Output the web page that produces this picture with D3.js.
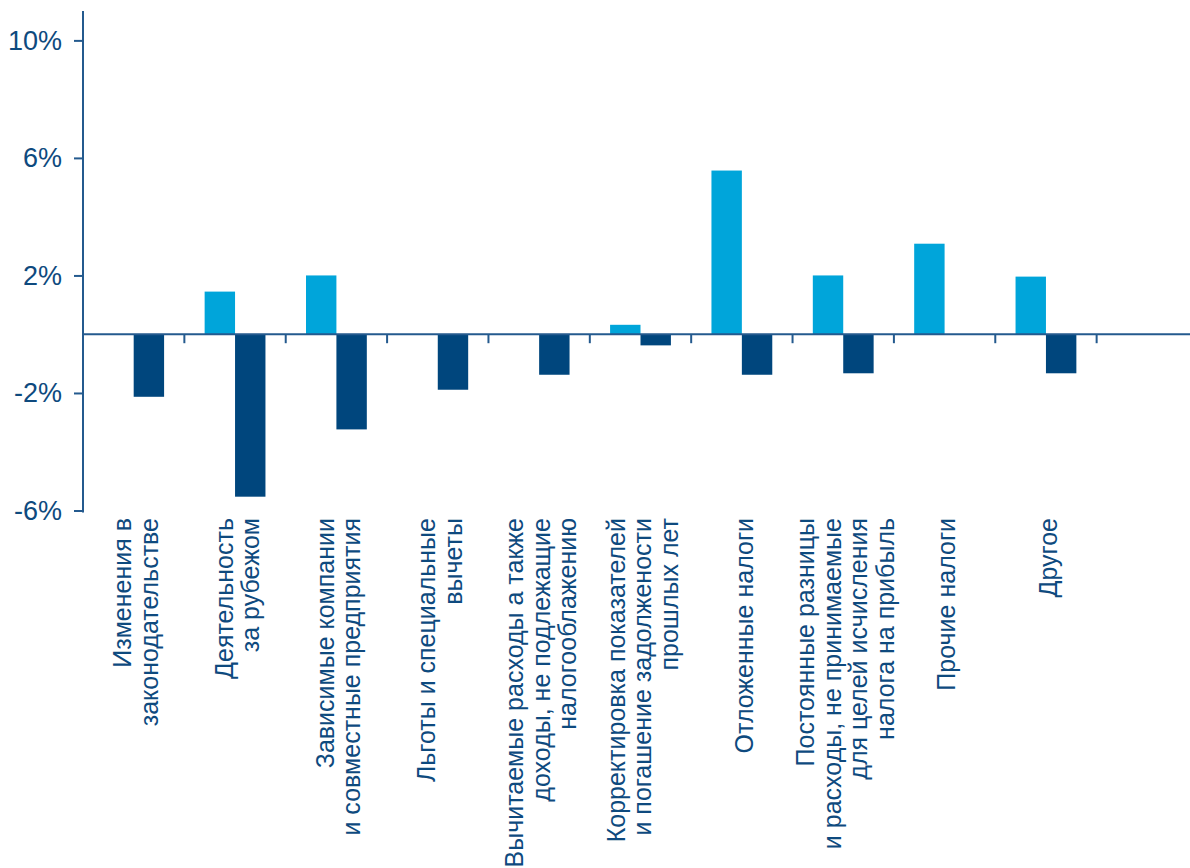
<!DOCTYPE html>
<html>
<head>
<meta charset="utf-8">
<script src="https://cdn.jsdelivr.net/npm/d3@7"></script>
<style>
  body { margin: 0; background: #fff; }
  svg { display: block; font-family: "Liberation Sans", Arial, Helvetica, sans-serif; }
</style>
</head>
<body>
<svg id="canvas"></svg>
<script>
// categories (lines of each rotated label); the last band is empty in the source
const categories = [
    ["Изменения в", "законодательстве"],
    ["Деятельность", "за рубежом"],
    ["Зависимые компании", "и совместные предприятия"],
    ["Льготы и специальные", "вычеты"],
    ["Вычитаемые расходы а также", "доходы, не подлежащие", "налогооблажению"],
    ["Корректировка показателей", "и погашение задолжености", "прошлых лет"],
    ["Отложенные налоги"],
    ["Постоянные разницы", "и расходы, не принимаемые", "для целей исчисления", "налога на прибыль"],
    ["Прочие налоги"],
    ["Другое"],
    []
];
const lightValues = [null, 1.45, 2.0, null, null, 0.32, 5.57, 2.0, 3.08, 1.96, null];
const darkValues = [-2.13, -5.53, -3.24, -1.89, -1.38, -0.38, -1.38, -1.33, null, -1.33, null];
const yTicks = [-6, -2, 2, 6, 10];

const width = 1190;
const height = 868;
const textColor = "#0e4a7e";
const axisColor = "#245a8e";

const svg = d3.select("#canvas")
    .attr("width", width)
    .attr("height", height);

const ids = categories.map((c, i) => "c" + i);

const x = d3.scaleBand()
    .domain(ids)
    .range([83, 1198]);

const sub = d3.scaleBand()
    .domain(["light", "dark"])
    .range([x.bandwidth() * 0.2, x.bandwidth() * 0.8]);

const y = d3.scaleLinear()
    .domain([-6, 11])
    .range([510.5, 11]);

// bars
const series = [
    { key: "light", values: lightValues, color: "#00a5da" },
    { key: "dark", values: darkValues, color: "#00467d" }
];

series.forEach(s => {
    svg.append("g")
        .selectAll("rect")
        .data(s.values.map((v, i) => ({ id: ids[i], v: v })).filter(d => d.v !== null))
        .enter()
        .append("rect")
        .attr("x", d => x(d.id) + sub(s.key))
        .attr("width", sub.bandwidth())
        .attr("y", d => y(Math.max(0, d.v)))
        .attr("height", d => Math.abs(y(d.v) - y(0)))
        .style("fill", s.color);
});

// y axis
const yAxis = svg.append("g")
    .attr("transform", "translate(83,0)")
    .call(d3.axisLeft(y)
        .tickValues(yTicks)
        .tickSize(9)
        .tickPadding(12)
        .tickFormat(d => d + "%"));

yAxis.select(".domain")
    .attr("d", "M0," + y(11) + "V" + (y(-6) + 2))
    .attr("stroke", axisColor)
    .attr("stroke-width", 2);
yAxis.selectAll(".tick line")
    .attr("stroke", axisColor)
    .attr("stroke-width", 2);
yAxis.selectAll(".tick text")
    .attr("fill", textColor)
    .style("font-size", "27px");

// zero line with category separators
svg.append("line")
    .attr("x1", 83)
    .attr("x2", width)
    .attr("y1", y(0))
    .attr("y2", y(0))
    .attr("stroke", axisColor)
    .attr("stroke-width", 2);

svg.append("g")
    .selectAll("line")
    .data(ids.slice(1))
    .enter()
    .append("line")
    .attr("x1", d => x(d))
    .attr("x2", d => x(d))
    .attr("y1", y(0))
    .attr("y2", y(0) + 9)
    .attr("stroke", axisColor)
    .attr("stroke-width", 2);

// rotated category labels
const lineStep = 26.5;
categories.forEach((lines, i) => {
    const cx = x(ids[i]) + x.bandwidth() / 2;
    lines.forEach((line, k) => {
        const off = (k - (lines.length - 1) / 2) * lineStep;
        svg.append("text")
            .attr("transform", "translate(" + (cx + off + 2) + ",518) rotate(-90)")
            .attr("text-anchor", "end")
            .attr("dy", "0.35em")
            .attr("fill", textColor)
            .style("font-size", "25px")
            .text(line);
    });
});
</script>
</body>
</html>
